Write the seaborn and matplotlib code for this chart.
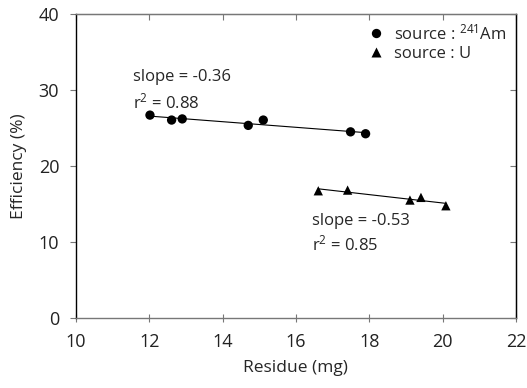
import numpy as np
import pandas as pd
import seaborn as sns
import matplotlib.pyplot as plt
from matplotlib.ticker import NullFormatter

# data
am_residue = [12.02, 12.61, 12.90, 14.70, 15.11, 17.49, 17.90]
am_eff = [26.7, 26.05, 26.2, 25.35, 26.05, 24.5, 24.25]
u_residue = [16.61, 17.41, 19.11, 19.41, 20.09]
u_eff = [16.75, 16.84, 15.53, 15.88, 14.78]

sources = ["Am", "U"]
labels = {"Am": r"source : $^{241}$Am", "U": "source : U"}

df = pd.concat([
    pd.DataFrame({"Residue": am_residue, "Efficiency": am_eff, "source": "Am"}),
    pd.DataFrame({"Residue": u_residue, "Efficiency": u_eff, "source": "U"}),
])

sns.set_style("white")
plt.rcParams['font.family'] = ['Open Sans', 'DejaVu Sans']
plt.rcParams['mathtext.default'] = 'regular'

fig, ax = plt.subplots(figsize=(5.27, 3.88), dpi=100)

## fit lines
for s in sources:
    sub = df[df["source"] == s]
    sns.regplot(data=sub, x="Residue", y="Efficiency", scatter=False, ci=None,
                color="black", line_kws={"lw": 0.8}, ax=ax)

## points
sns.scatterplot(data=df, x="Residue", y="Efficiency", style="source",
                markers={"Am": "o", "U": "^"}, color="black", s=45,
                edgecolor="none", ax=ax)

ax.set_xlim(10, 22)
ax.set_ylim(0, 40)
ax.set_xticks(range(10, 23, 2))
ax.set_yticks(range(0, 41, 10))
ax.set_xlabel("Residue (mg)", fontsize=12.5, labelpad=6)
ax.set_ylabel("Efficiency (%)", fontsize=12.5, labelpad=8)
ax.tick_params(axis='both', labelsize=13, labelcolor="#222222")

## box and ticks
for side in ["left", "right"]:
    ax.spines[side].set_color("black")
for side in ["top", "bottom"]:
    ax.spines[side].set_color("#777777")
for sp in ax.spines.values():
    sp.set_linewidth(1)
ax.tick_params(axis='y', left=True, right=False, direction='out', length=4,
               color="#777777", pad=8)
ax.tick_params(axis='x', bottom=True, direction='inout', length=6,
               color="#777777", pad=8)

top = ax.secondary_xaxis('top')
top.set_xticks(range(10, 23, 2))
top.xaxis.set_major_formatter(NullFormatter())
top.tick_params(direction='in', length=4, color="#777777")
top.spines['top'].set_color("#777777")

right = ax.secondary_yaxis('right')
right.set_yticks(range(0, 41, 10))
right.yaxis.set_major_formatter(NullFormatter())
right.tick_params(direction='in', length=4, color="#777777")
right.spines['right'].set_color("black")

## annotations
ax.text(11.55, 31.7, "slope = -0.36", fontsize=12, va="center")
ax.text(11.55, 28.4, "r$^{2}$ = 0.88", fontsize=12, va="center")
ax.text(16.43, 12.8, "slope = -0.53", fontsize=12, va="center")
ax.text(16.43, 9.7, "r$^{2}$ = 0.85", fontsize=12, va="center")

handles, lbls = ax.get_legend_handles_labels()
ax.legend(handles, [labels[l] for l in lbls], frameon=False, loc="upper right",
          fontsize=12, handletextpad=0.1, labelspacing=0.15, borderaxespad=0.15)

fig.subplots_adjust(left=0.144, right=0.979, top=0.964, bottom=0.18)
plt.savefig("out.png")
